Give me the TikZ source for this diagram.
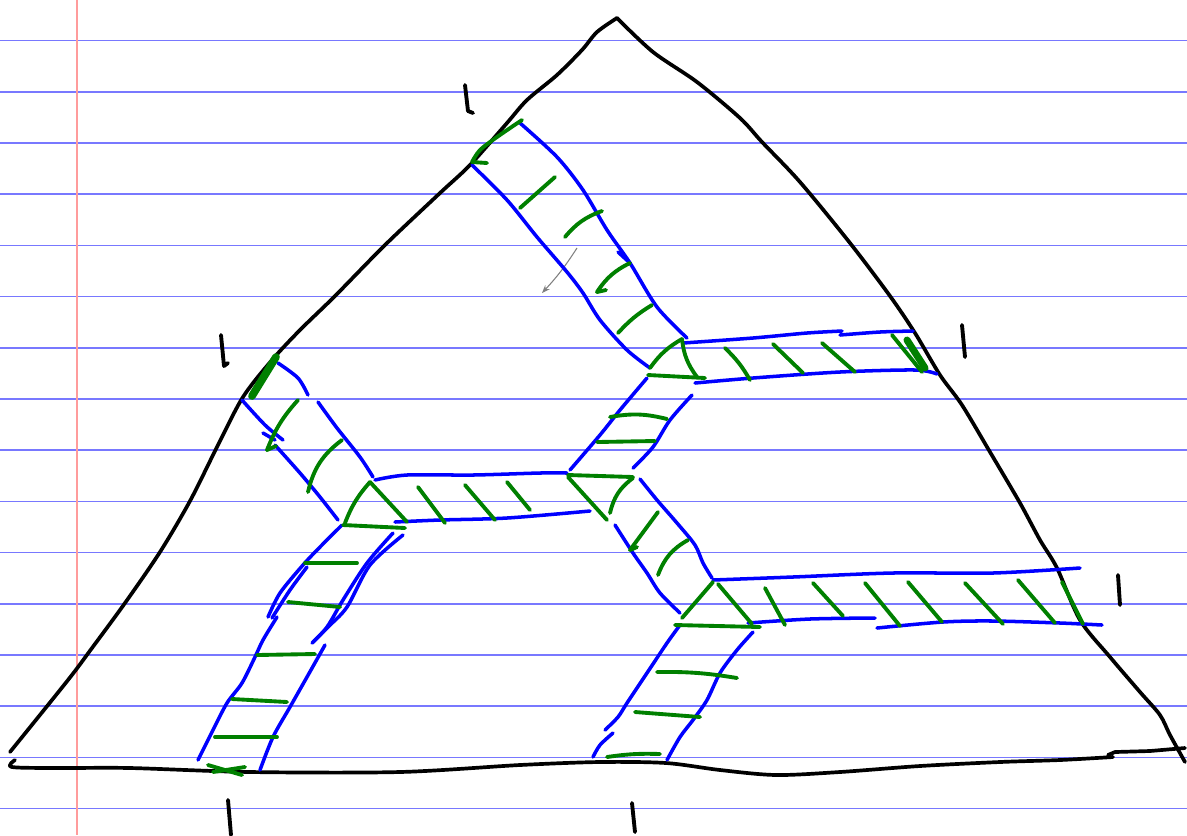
\documentclass[tikz,border=0pt]{standalone}
\usepackage{tikz}
\usetikzlibrary{arrows.meta}
\definecolor{ruleblue}{HTML}{7878FF}
\definecolor{marginred}{HTML}{FF9C9C}
\definecolor{penblue}{HTML}{0000FF}
\definecolor{pengreen}{HTML}{008000}
\tikzset{
  rule/.style={draw=ruleblue, line width=0.45pt},
  margin/.style={draw=marginred, line width=0.6pt},
  outline/.style={draw=black, line width=1.05pt, line cap=round, line join=round},
  strip/.style={draw=penblue, line width=1pt, line cap=round, line join=round},
  hatch/.style={draw=pengreen, line width=1.1pt, line cap=round, line join=round},
  tick/.style={draw=black, line width=1.1pt, line cap=round, line join=round},
  pencil/.style={draw=gray, line width=0.3pt, -{Stealth[length=0.8mm,width=0.6mm]}},
}

\begin{document}
\begin{tikzpicture}[x=0.01cm, y=-0.01cm]
\useasboundingbox (0,0) rectangle (1187,835);
\fill[white] (0,0) rectangle (1187,835);

% paper
\foreach \k in {0,...,15}{
  \draw[rule] (0,{40.5+51.2*\k}) -- (1187,{40.5+51.2*\k});}
\draw[margin] (77,0) -- (77,835);

% triangle
\draw[outline] plot[smooth, tension=0.5] coordinates {(10,752) (68,680) (92,648)
  (125,603) (160,552) (190,501) (218,445) (243,397) (272,360) (300,330) (335,296)
  (385,245) (440,193) (470,165) (507,123) (527,100) (557,75) (582,50) (597,32) (617,18)};
\draw[outline] plot[smooth, tension=0.5] coordinates {(617,18) (653,52) (697,82)
  (740,118) (762,142) (800,182) (850,243) (890,296) (915,333) (940,375) (962,405)
  (990,452) (1020,503) (1040,540) (1057,568) (1080,620) (1110,657) (1140,692)
  (1160,715) (1170,735) (1185,762)};
\draw[outline] plot[smooth, tension=0.5] coordinates {(15,760) (12,767) (60,768)
  (130,768) (250,772) (400,772) (520,765) (600,762) (666,763) (720,770) (776,775)
  (840,772) (920,766) (1000,762) (1060,760) (1113,757)};
\draw[outline] (1108,755) -- (1115,752) -- (1150,751) -- (1185,748);

% side marks
\draw[tick] (465,85) -- (468,111) -- (473,113);
\draw[tick] (221,335) -- (224,366) -- (228,363);
\draw[tick] (962,325) -- (965,357);
\draw[tick] (1118,575) -- (1120,605);
\draw[tick] (228,800) -- (231,835);
\draw[tick] (632,803) -- (635,832);

\draw[pencil] (577,248) to[bend left=5] (542,293);

% blue strips
\draw[strip] plot[smooth] coordinates {(520,123) (557,157) (583,190) (607,230) (630,263) (657,307) (687,338)};
\draw[strip] (618,252) -- (630,263);
\draw[strip] plot[smooth] coordinates {(472,165) (507,200) (537,237) (567,272) (583,293) (600,320) (627,350) (650,368)};
\draw[strip] plot[smooth] coordinates {(683,343) (753,338) (807,333) (842,331)};
\draw[strip] plot[smooth] coordinates {(840,335) (880,332) (913,331)};
\draw[strip] plot[smooth] coordinates {(695,383) (753,378) (840,372) (915,370) (937,374)};
\draw[strip] plot[smooth] coordinates {(647,378) (620,410) (600,435) (570,470)};
\draw[strip] plot[smooth] coordinates {(692,395) (670,420) (653,447) (633,468)};
\draw[strip] plot[smooth] coordinates {(375,480) (407,475) (473,475) (540,473) (567,473)};
\draw[strip] plot[smooth] coordinates {(395,522) (440,520) (507,518) (590,511)};
\draw[strip] plot[smooth] coordinates {(242,400) (265,425) (283,440)};
\draw[strip] (263,433) -- (275,440);
\draw[strip] plot[smooth] coordinates {(275,445) (300,473) (320,497) (338,520)};
\draw[strip] plot[smooth] coordinates {(278,363) (298,378) (308,395)};
\draw[strip] plot[smooth] coordinates {(318,402) (337,428) (360,457) (373,477)};
\draw[strip] plot[smooth] coordinates {(342,525) (320,547) (303,565) (280,593) (268,617)};
\draw[strip] plot[smooth] coordinates {(307,567) (290,590) (272,618)};
\draw[strip] plot[smooth] coordinates {(277,617) (263,640) (255,657) (242,683) (227,703) (213,730) (198,760)};
\draw[strip] plot[smooth] coordinates {(393,533) (367,563) (343,600) (327,627) (312,643)};
\draw[strip] plot[smooth] coordinates {(403,535) (370,565) (347,607) (328,627) (313,642)};
\draw[strip] plot[smooth] coordinates {(325,645) (307,677) (290,707) (273,737) (260,770)};
\draw[strip] plot[smooth] coordinates {(640,479) (657,500) (677,523) (695,545) (703,563) (712,578)};
\draw[strip] plot[smooth] coordinates {(615,525) (633,553) (647,573) (660,593) (680,613)};
\draw[strip] plot[smooth] coordinates {(713,580) (793,577) (893,573) (993,573) (1080,568)};
\draw[strip] plot[smooth] coordinates {(748,623) (810,619) (875,618)};
\draw[strip] plot[smooth] coordinates {(877,628) (943,622) (993,621) (1060,623) (1102,625)};
\draw[strip] plot[smooth] coordinates {(680,625) (667,643) (647,673) (627,703) (618,717) (605,730)};
\draw[strip] plot[smooth] coordinates {(613,733) (600,745) (593,757)};
\draw[strip] plot[smooth] coordinates {(753,632) (737,650) (720,673) (707,700) (693,720) (680,737) (667,760)};

% green hatching
\foreach \ax/\ay/\bx/\by/\c in {
  555/177/520/208/0, 602/211/565/237/-15, 630/263/597/292/-15,
  652/305/618/333/-8, 682/339/650/368/-12, 682/339/697/377/-15,
  648/375/705/378/0,
  725/348/750/380/8, 773/344/803/373/0, 822/343/855/372/0,
  892/335/922/372/0,
  610/417/667/419/12, 597/442/655/441/0,
  418/487/445/523/0, 465/485/495/520/0, 507/482/530/510/0,
  370/482/407/522/0, 370/482/345/523/-10, 343/525/405/528/0,
  568/475/633/477/0, 568/477/607/520/0, 633/478/610/513/-20,
  298/400/267/450/-10, 342/440/308/492/-20,
  305/563/357/563/0, 288/602/340/607/0, 257/655/315/654/0,
  232/699/287/702/0, 215/737/277/737/0,
  208/765/242/775/0, 213/772/245/767/0,
  658/512/630/550/0, 688/540/658/575/-20,
  713/582/682/618/0, 718/584/752/624/0, 675/625/760/627/0,
  765/588/785/625/0, 813/583/843/616/0, 865/583/900/626/0,
  908/582/942/622/0, 965/583/1003/624/0, 1018/580/1055/623/0,
  1062/582/1083/624/0,
  657/672/737/678/5, 635/712/700/717/0, 607/757/660/754/5}{
  \draw[hatch] (\ax,\ay) to[bend left=\c] (\bx,\by);}
\draw[hatch] plot[smooth] coordinates {(522,120) (497,137) (480,150) (472,162)} -- (487,163);
\draw[hatch] (597,292) -- (606,290);
\draw[hatch] (630,550) -- (637,547);
\draw[hatch] (267,450) -- (276,446);
\draw[hatch, line width=2.2pt] (276,357) -- (252,396);
\draw[hatch, line width=2pt] (907,340) -- (925,368);
\end{tikzpicture}
\end{document}
